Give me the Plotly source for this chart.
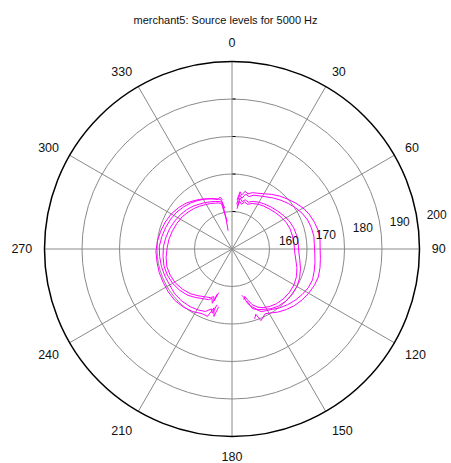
import plotly.graph_objects as go

TITLE = "merchant5: Source levels for 5000 Hz"
angle_ticks = [0, 30, 60, 90, 120, 150, 180, 210, 240, 270, 300, 330]
radial_ticks = [160, 170, 180, 190, 200]
r_min, r_max = 150, 200

# starboard side passes (theta in degrees, source level in dB)
right_a_theta = [6, 8, 10, 13, 16, 20, 25, 30, 36, 42, 48, 54, 60, 66, 72, 78, 84, 90, 96, 102, 108, 114, 120, 126, 132, 138, 144, 149, 153, 156, 158, 160, 162]
right_a_r = [163.2, 165.4, 164.6, 165.8, 165.3, 166.0, 166.4, 167.0, 168.0, 169.0, 169.9, 170.9, 171.9, 172.6, 173.1, 173.5, 173.6, 173.5, 173.7, 174.0, 174.2, 174.0, 173.6, 173.1, 172.5, 171.7, 170.8, 169.9, 169.4, 170.1, 170.6, 168.5, 169.6]
right_b_theta = [6, 8, 11, 14, 18, 22, 27, 33, 39, 45, 51, 57, 63, 69, 75, 81, 87, 93, 99, 105, 111, 117, 123, 129, 135, 141, 146, 151, 155, 158, 161, 164]
right_b_r = [162.0, 164.6, 163.8, 165.1, 164.7, 165.5, 165.9, 166.6, 167.5, 168.4, 169.3, 170.2, 171.0, 171.6, 171.9, 172.1, 172.0, 172.1, 172.4, 172.7, 173.0, 172.8, 172.3, 171.7, 171.0, 170.2, 169.4, 168.8, 168.4, 167.4, 166.8, 164.5]
right_c_theta = [7, 9, 12, 15, 19, 24, 30, 36, 43, 50, 57, 64, 71, 78, 85, 92, 99, 106, 113, 120, 127, 134, 141, 147, 152, 157, 161, 164, 166, 168]
right_c_r = [161.5, 163.8, 162.9, 163.6, 163.2, 163.9, 164.4, 164.8, 165.3, 165.8, 166.4, 167.0, 167.4, 167.6, 167.7, 167.8, 168.3, 169.0, 169.6, 170.0, 170.1, 170.0, 169.6, 169.0, 168.2, 167.6, 166.3, 165.1, 163.4, 162.6]
right_d_theta = [7, 9, 12, 15, 19, 24, 30, 36, 43, 50, 57, 64, 71, 78, 85, 92, 99, 106, 113, 120, 127, 134, 141, 147, 152, 156, 160, 163, 165, 167]
right_d_r = [160.8, 162.9, 162.2, 163.0, 162.6, 163.3, 163.8, 164.2, 164.6, 165.1, 165.6, 166.1, 166.4, 166.5, 166.6, 166.7, 167.2, 168.0, 168.7, 169.1, 169.2, 169.1, 168.8, 168.3, 167.7, 167.0, 165.8, 164.2, 163.1, 163.9]

# port side passes
left_a_theta = [193, 195, 197, 200, 205, 212, 220, 228, 236, 244, 252, 260, 268, 276, 284, 292, 300, 308, 315, 321, 327, 333, 339, 344, 347, 349]
left_a_r = [165.8, 168.6, 166.4, 169.1, 169.0, 169.7, 170.2, 170.5, 170.5, 170.4, 170.4, 170.3, 170.3, 170.0, 169.6, 169.2, 168.7, 168.0, 167.3, 166.5, 165.8, 165.0, 164.3, 163.7, 164.2, 163.4]
left_b_theta = [195, 197, 199, 203, 209, 216, 224, 232, 240, 248, 256, 264, 272, 280, 288, 296, 304, 311, 318, 324, 330, 336, 341, 345, 348, 349, 348]
left_b_r = [165.4, 167.9, 166.9, 168.1, 168.6, 169.0, 169.3, 169.4, 169.2, 169.3, 169.4, 169.4, 169.4, 169.0, 168.6, 168.2, 167.7, 167.1, 166.5, 165.9, 165.3, 164.7, 164.2, 163.8, 163.3, 158.5, 155.0]
left_c_theta = [198, 200, 202, 205, 210, 217, 224, 232, 240, 248, 256, 264, 272, 280, 288, 296, 304, 311, 318, 324, 330, 336, 341, 345, 348, 350]
left_c_r = [162.6, 165.4, 164.2, 164.9, 165.3, 166.2, 167.1, 167.8, 168.3, 168.6, 168.7, 168.5, 168.3, 167.9, 167.5, 167.0, 166.5, 166.0, 165.4, 164.8, 164.3, 163.8, 163.4, 163.1, 162.8, 161.0]
left_d_theta = [197, 199, 201, 204, 209, 216, 223, 231, 239, 247, 255, 263, 271, 279, 287, 295, 303, 310, 317, 323, 329, 335, 340, 344, 347, 350]
left_d_r = [162.2, 164.6, 163.6, 164.2, 164.6, 165.4, 166.3, 167.0, 167.6, 167.9, 168.0, 167.7, 167.3, 167.0, 166.6, 166.2, 165.8, 165.3, 164.8, 164.3, 163.8, 163.4, 163.0, 162.8, 162.4, 157.5]

curves = [
    (right_a_theta, right_a_r), (right_b_theta, right_b_r),
    (right_c_theta, right_c_r), (right_d_theta, right_d_r),
    (left_a_theta, left_a_r), (left_b_theta, left_b_r),
    (left_c_theta, left_c_r), (left_d_theta, left_d_r),
]

FONT = "Liberation Sans, Arial, sans-serif"
W, H = 451, 463
cx, cy, R = 232, 249, 187.5

fig = go.Figure()
for th, rr in curves:
    fig.add_trace(go.Scatterpolar(theta=th, r=rr, mode="lines",
                                  line=dict(color="#ff00ff", width=1),
                                  showlegend=False, hoverinfo="skip"))

# radial tick labels, drawn through the polar scale at each ring
label_theta = 80
fig.add_trace(go.Scatterpolar(theta=[label_theta] * len(radial_ticks),
                              r=radial_ticks,
                              text=["\u00a0\u00a0\u00a0" + str(v) for v in radial_ticks],
                              mode="text", textposition="middle right",
                              textfont=dict(family=FONT, size=12, color="#111"),
                              cliponaxis=False, showlegend=False, hoverinfo="skip"))

fig.update_layout(
    width=W, height=H,
    margin=dict(l=0, r=0, t=0, b=0),
    paper_bgcolor="white",
    title=dict(text=TITLE, x=0.5, xanchor="center", y=1 - 20 / H, yanchor="middle",
               font=dict(family=FONT, size=11, color="#111")),
    polar=dict(
        domain=dict(x=[(cx - R) / W, (cx + R) / W], y=[(H - cy - R) / H, (H - cy + R) / H]),
        bgcolor="white",
        radialaxis=dict(range=[r_min, r_max], tickvals=radial_ticks, showticklabels=False,
                        showline=False, gridcolor="#8a8a8a", gridwidth=1,
                        angle=90, ticks="outside", ticklen=3, tickcolor="black"),
        angularaxis=dict(rotation=90, direction="clockwise", tickvals=angle_ticks,
                         ticktext=[str(a) for a in angle_ticks],
                         showline=True, linecolor="black", linewidth=1.5,
                         gridcolor="#8a8a8a", gridwidth=1,
                         ticks="outside", ticklen=9, tickcolor="rgba(0,0,0,0)",
                         tickfont=dict(family=FONT, size=12.5, color="#111")),
    ),
)

fig.write_html("out.html", config={"displayModeBar": False},
               post_script="document.body.style.margin='0';")
